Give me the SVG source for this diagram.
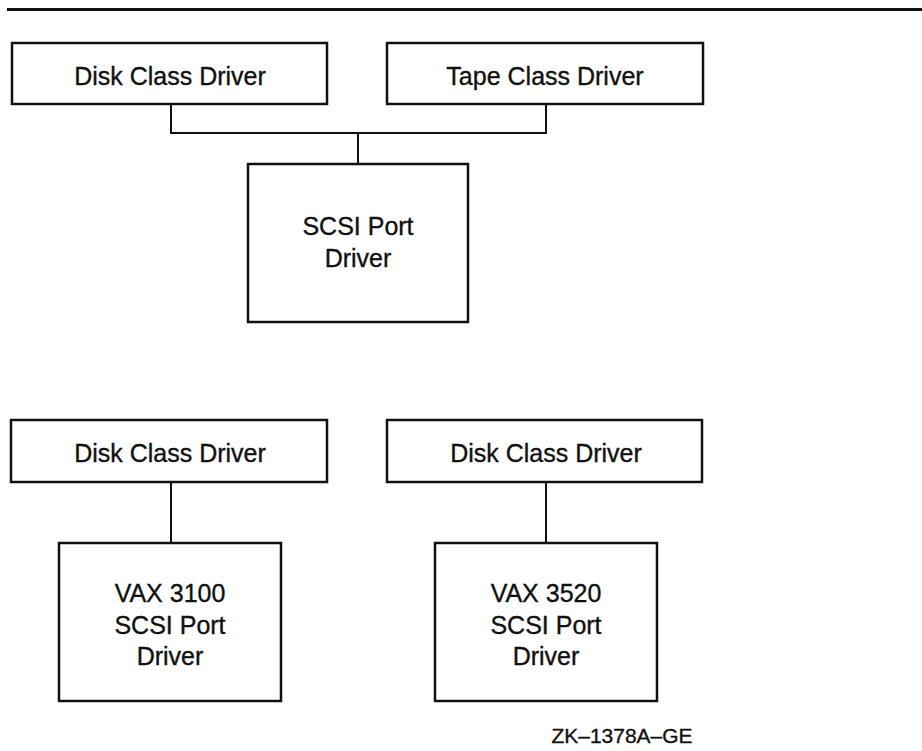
<svg xmlns="http://www.w3.org/2000/svg" width="922" height="751" viewBox="0 0 922 751">
<style>
.box{fill:#fff;stroke:#111;stroke-width:2.5}
.ln{fill:none;stroke:#111;stroke-width:2}
text{font-family:"Liberation Sans",Arial,sans-serif;font-size:25px;fill:#111;stroke:#111;stroke-width:0.35;text-anchor:middle}
.id{font-size:20px}
</style>
<rect width="922" height="751" fill="#fff"/>
<line x1="7" y1="9.5" x2="922" y2="9.5" stroke="#111" stroke-width="3"/>
<g id="connectors">
<polyline class="ln" points="171,104 171,133 546,133 546,104"/>
<line class="ln" x1="358" y1="133" x2="358" y2="164"/>
<line class="ln" x1="171" y1="482" x2="171" y2="543"/>
<line class="ln" x1="546" y1="482" x2="546" y2="543"/>
</g>
<g id="disk1">
<rect class="box" x="12" y="43" width="315" height="61"/>
<text x="170" y="85">Disk Class Driver</text>
</g>
<g id="tape">
<rect class="box" x="387" y="43" width="316" height="61"/>
<text x="545" y="85">Tape Class Driver</text>
</g>
<g id="scsi">
<rect class="box" x="248" y="164" width="220" height="158"/>
<text x="358" y="235">SCSI Port</text>
<text x="358" y="267">Driver</text>
</g>
<g id="disk2">
<rect class="box" x="11" y="420" width="316" height="62"/>
<text x="170" y="462">Disk Class Driver</text>
</g>
<g id="disk3">
<rect class="box" x="387" y="420" width="315" height="62"/>
<text x="546" y="462">Disk Class Driver</text>
</g>
<g id="vax3100">
<rect class="box" x="59" y="543" width="222" height="158"/>
<text x="170" y="602">VAX 3100</text>
<text x="170" y="634">SCSI Port</text>
<text x="170" y="665">Driver</text>
</g>
<g id="vax3520">
<rect class="box" x="435" y="543" width="222" height="158"/>
<text x="546" y="602">VAX 3520</text>
<text x="546" y="634">SCSI Port</text>
<text x="546" y="665">Driver</text>
</g>
<text class="id" x="622" y="743" textLength="141" lengthAdjust="spacingAndGlyphs">ZK–1378A–GE</text>
</svg>
